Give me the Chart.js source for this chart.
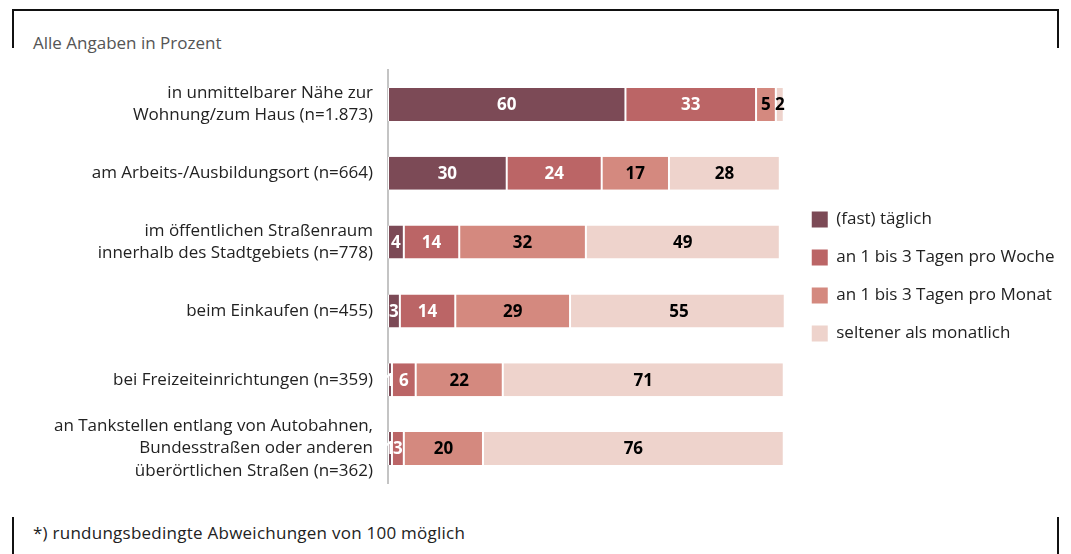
<!DOCTYPE html>
<html>
<head>
<meta charset="utf-8">
<script src="https://cdn.jsdelivr.net/npm/chart.js@4"></script>
<style>
  html, body { margin: 0; padding: 0; background: #fff; }
  body { width: 1071px; height: 554px; position: relative; overflow: hidden; font-family: "Open Sans", sans-serif; }
  #wrap { position: absolute; left: 0; top: 0; width: 1071px; height: 554px; }
  .ln { position: absolute; background: #111; }
  .note { position: absolute; font-size: 17px; }
</style>
</head>
<body>
<div class="ln" style="left:12px;top:9px;width:1047px;height:2px"></div>
<div class="ln" style="left:12px;top:9px;width:2px;height:39px"></div>
<div class="ln" style="left:1057px;top:9px;width:2px;height:39px"></div>
<div class="ln" style="left:12px;top:517px;width:2px;height:37px"></div>
<div class="ln" style="left:1057px;top:517px;width:2px;height:37px"></div>
<div class="note" style="left:33px;top:31px;color:#555">Alle Angaben in Prozent</div>
<div class="note" style="left:33px;top:521px;color:#222;letter-spacing:0.25px">*) rundungsbedingte Abweichungen von 100 möglich</div>
<div id="wrap"><canvas id="myChart"></canvas></div>
<script>
// Categories (y axis)
const categories = [
  ['in unmittelbarer Nähe zur', 'Wohnung/zum Haus (n=1.873)'],
  'am Arbeits-/Ausbildungsort (n=664)',
  ['im öffentlichen Straßenraum', 'innerhalb des Stadtgebiets (n=778)'],
  'beim Einkaufen (n=455)',
  'bei Freizeiteinrichtungen (n=359)',
  ['an Tankstellen entlang von Autobahnen,', 'Bundesstraßen oder anderen', 'überörtlichen Straßen (n=362)']
];

// Series
const seriesNames = ['(fast) täglich', 'an 1 bis 3 Tagen pro Woche', 'an 1 bis 3 Tagen pro Monat', 'seltener als monatlich'];
const taeglich = [60, 30, 4, 3, 1, 1];
const woche = [33, 24, 14, 14, 6, 3];
const monat = [5, 17, 32, 29, 22, 20];
const seltener = [2, 28, 49, 55, 71, 76];

const colors = ['#7c4a56', '#bb6566', '#d4897f', '#eed3cc'];
const labelColors = ['#fff', '#fff', '#000', '#000'];

const chartData = [taeglich, woche, monat, seltener].map((vals, i) => ({
  label: seriesNames[i],
  data: vals,
  backgroundColor: colors[i],
  borderColor: '#fff',
  borderWidth: { left: 1, right: 1, top: 0, bottom: 0 },
  borderSkipped: false,
  categoryPercentage: 1,
  barPercentage: 0.48
}));

// Draw values inside segments
const valueLabels = {
  id: 'valueLabels',
  afterDatasetsDraw(chart) {
    const ctx = chart.ctx;
    ctx.save();
    ctx.font = 'bold 17px "Open Sans", sans-serif';
    ctx.textAlign = 'center';
    ctx.textBaseline = 'middle';
    chart.data.datasets.forEach((ds, i) => {
      chart.getDatasetMeta(i).data.forEach((bar, j) => {
        const v = ds.data[j];
        const x = (bar.x + bar.base) / 2;
        ctx.fillStyle = labelColors[i];
        ctx.fillText(v, x, bar.y + 1);
      });
    });
    ctx.restore();
  }
};

// Wider gap between bars and legend
const legendGap = {
  id: 'legendGap',
  beforeLayout(chart) {
    const lg = chart.legend;
    if (lg && !lg._gapPatched) {
      const fit = lg.fit;
      lg.fit = function () { fit.call(this); this.width += 9; };
      lg._gapPatched = true;
    }
  },
  afterLayout(chart) {
    chart.legend.left += 7;
    chart.legend.right += 7;
  }
};

const chartOptions = {
  indexAxis: 'y',
  responsive: true,
  maintainAspectRatio: false,
  animation: false,
  layout: { padding: { top: 70, bottom: 71, left: 0, right: 14 } },
  plugins: {
    legend: {
      position: 'right',
      labels: {
        boxWidth: 16,
        boxHeight: 16,
        padding: 21,
        color: '#222',
        font: { family: '"Open Sans", sans-serif', size: 17 },
        generateLabels(chart) {
          return Chart.defaults.plugins.legend.labels.generateLabels(chart).map(l => {
            l.lineWidth = 0;
            l.strokeStyle = l.fillStyle;
            return l;
          });
        }
      }
    },
    tooltip: { enabled: false }
  },
  scales: {
    x: {
      stacked: true,
      min: 0,
      max: 100,
      display: false
    },
    y: {
      stacked: true,
      grid: { display: false, drawTicks: false },
      border: { color: '#c4c4c4', width: 2 },
      ticks: {
        autoSkip: false,
        padding: 15,
        color: '#222',
        font: { family: '"Open Sans", sans-serif', size: 17, lineHeight: 1.3 }
      },
      afterFit(scale) { scale.width = 388; }
    }
  }
};

const myChart = new Chart(document.getElementById('myChart'), {
  type: 'bar',
  data: { labels: categories, datasets: chartData },
  options: chartOptions,
  plugins: [valueLabels, legendGap]
});
</script>
</body>
</html>
